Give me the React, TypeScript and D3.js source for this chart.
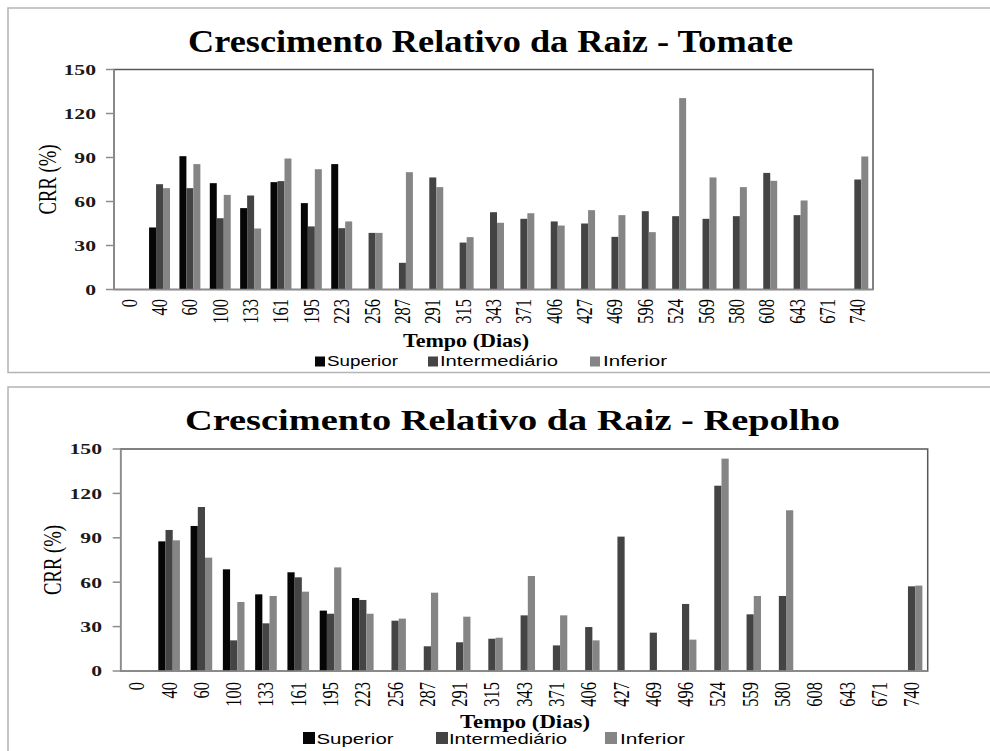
import React from 'react';
import * as d3 from 'd3';

// ---------- DATA ----------
const seriesNames = ['Superior', 'Intermediário', 'Inferior'];
const seriesColors = ['#060606', '#444444', '#858585'];
const yTicks = [0, 30, 60, 90, 120, 150];

const tomateDays = ['0', '40', '60', '100', '133', '161', '195', '223', '256', '287', '291', '315', '343', '371', '406', '427', '469', '596', '524', '569', '580', '608', '643', '671', '740'];
const tomateSuperior = [null, 42.3, 90.9, 72.5, 55.5, 73.2, 58.9, 85.5, null, null, null, null, null, null, null, null, null, null, null, null, null, null, null, null, null];
const tomateIntermediario = [null, 71.8, 69.1, 48.6, 64.1, 73.9, 43, 41.8, 38.6, 18.2, 76.4, 32, 52.7, 48.2, 46.4, 45, 35.9, 53.4, 50, 48.2, 50, 79.5, 50.7, null, 75];
const tomateInferior = [null, 69.1, 85.5, 64.5, 41.6, 89.3, 82, 46.4, 38.6, 80, 69.8, 35.7, 45.5, 52, 43.6, 54.1, 50.7, 39.1, 130.5, 76.4, 69.8, 74.1, 60.7, null, 90.7];

const repolhoDays = ['0', '40', '60', '100', '133', '161', '195', '223', '256', '287', '291', '315', '343', '371', '406', '427', '469', '496', '524', '559', '580', '608', '643', '671', '740'];
const repolhoSuperior = [null, 87.6, 98, 68.7, 51.8, 66.7, 40.8, 49.3, null, null, null, null, null, null, null, null, null, null, null, null, null, null, null, null, null];
const repolhoIntermediario = [null, 95.3, 110.8, 20.7, 32.2, 63.3, 38.7, 48, 34, 16.7, 19.4, 21.8, 37.6, 17.3, 29.7, 90.8, 25.9, 45.3, 125.2, 38.3, 50.7, null, null, null, 57.2];
const repolhoInferior = [null, 88.3, 76.6, 46.6, 50.7, 53.6, 70, 38.7, 35.4, 52.9, 36.7, 22.5, 64.2, 37.6, 20.7, null, null, 21.2, 143.5, 50.7, 108.6, null, null, null, 57.7];

const titleTomate = 'Crescimento Relativo da Raiz - Tomate';
const titleRepolho = 'Crescimento Relativo da Raiz - Repolho';
const yTitle = 'CRR (%)';
const xTitle = 'Tempo (Dias)';

// ---------- LAYOUT ----------
const SERIF = 'Liberation Serif';
const SANS = 'Liberation Sans';

type Layout = {
  frame: { x: number; y: number; w: number; h: number };
  plot: { l: number; t: number; r: number; b: number };
  title: { x: number; y: number; len: number; size: number };
  xLabelY: number;
  yLabelRight: number;
  yTitle: { cx: number; cy: number; len: number };
  axisTitle: { x: number; y: number; len: number; size: number };
  legend: { y: number; sqY: number; sq: number; size: number; items: { sx: number; tx: number; len: number }[] };
  padding: number;
};

const layoutTop: Layout = {
  frame: { x: 8, y: 8, w: 990, h: 364.5 },
  plot: { l: 114, t: 69.5, r: 873, b: 289.5 },
  title: { x: 188, y: 51.5, len: 605, size: 31 },
  xLabelY: 299,
  yLabelRight: 96,
  yTitle: { cx: 47.5, cy: 179.5, len: 70 },
  axisTitle: { x: 403, y: 347, len: 126, size: 18 },
  legend: {
    y: 366, sqY: 356.5, sq: 10, size: 14,
    items: [{ sx: 315, tx: 327, len: 71 }, { sx: 428, tx: 440, len: 118 }, { sx: 590, tx: 603, len: 64 }],
  },
  padding: 0.31,
};

const layoutBottom: Layout = {
  frame: { x: 8, y: 387, w: 990, h: 400 },
  plot: { l: 120.7, t: 449, r: 927.7, b: 671 },
  title: { x: 185, y: 430, len: 655, size: 30 },
  xLabelY: 682,
  yLabelRight: 102,
  yTitle: { cx: 52.5, cy: 560, len: 70 },
  axisTitle: { x: 460, y: 727.5, len: 130, size: 18 },
  legend: {
    y: 744, sqY: 732, sq: 12, size: 14.5,
    items: [{ sx: 303, tx: 316.5, len: 77 }, { sx: 436, tx: 449, len: 118 }, { sx: 605, tx: 620, len: 65 }],
  },
  padding: 0.33,
};

type ChartProps = {
  title: string;
  days: string[];
  series: (number | null)[][];
  L: Layout;
};

function Chart({ title, days, series, L }: ChartProps) {
  const { plot } = L;
  const x = d3.scaleBand<string>()
    .domain(days)
    .range([plot.l, plot.r])
    .paddingInner(L.padding)
    .paddingOuter(L.padding / 2);
  const xs = d3.scaleBand<string>()
    .domain(seriesNames)
    .range([0, x.bandwidth()]);
  const y = d3.scaleLinear().domain([0, 150]).range([plot.b, plot.t]);

  return (
    <g>
      <rect x={L.frame.x} y={L.frame.y} width={L.frame.w} height={L.frame.h}
        fill="#fff" stroke="#b4b4b4" strokeWidth={1.5} />
      <text x={L.title.x} y={L.title.y} style={{ fontFamily: SERIF, fontWeight: 'bold' }}
        fontSize={L.title.size} textLength={L.title.len} lengthAdjust="spacingAndGlyphs" fill="#000">
        {title}
      </text>
      <rect x={plot.l} y={plot.t} width={plot.r - plot.l} height={plot.b - plot.t}
        fill="none" stroke="#585858" strokeWidth={1.5} />
      {days.map((d, i) => (
        <g key={d + i}>
          {series.map((s, j) => {
            const v = s[i];
            if (v === null || v === undefined) return null;
            return (
              <rect key={j}
                x={(x(d) as number) + (xs(seriesNames[j]) as number)}
                y={y(v)}
                width={xs.bandwidth()}
                height={y(0) - y(v)}
                fill={seriesColors[j]} />
            );
          })}
        </g>
      ))}
      <line x1={plot.l} x2={plot.l} y1={plot.t} y2={plot.b} stroke="#8c8c8c" strokeWidth={1.5} />
      <line x1={plot.l} x2={plot.r} y1={plot.b} y2={plot.b} stroke="#8c8c8c" strokeWidth={1.5} />
      {yTicks.map((t) => (
        <g key={t}>
          <line x1={plot.l - 8} x2={plot.l} y1={y(t)} y2={y(t)} stroke="#8c8c8c" strokeWidth={1.5} />
          <text transform={`translate(${L.yLabelRight},${y(t)}) scale(1.4,1)`}
            textAnchor="end" dy="0.35em" style={{ fontFamily: SERIF, fontWeight: 'bold' }} fontSize={15.5} fill="#1a1a1a">
            {t}
          </text>
        </g>
      ))}
      {days.map((d, i) => (
        <text key={'l' + i}
          transform={`translate(${(x(d) as number) + x.bandwidth() / 2},${L.xLabelY}) scale(1.38,1) rotate(-90)`}
          textAnchor="end" dy="0.33em" style={{ fontFamily: SERIF }} fontSize={16.5} fill="#000">
          {d}
        </text>
      ))}
      <text transform={`translate(${L.yTitle.cx},${L.yTitle.cy}) scale(1.4,1) rotate(-90)`}
        textAnchor="middle" dy="0.33em" style={{ fontFamily: SERIF }} fontSize={18.5}
        textLength={L.yTitle.len} lengthAdjust="spacingAndGlyphs" fill="#000">
        {yTitle}
      </text>
      <text x={L.axisTitle.x} y={L.axisTitle.y} style={{ fontFamily: SERIF, fontWeight: 'bold' }}
        fontSize={L.axisTitle.size} textLength={L.axisTitle.len} lengthAdjust="spacingAndGlyphs" fill="#000">
        {xTitle}
      </text>
      {seriesNames.map((n, j) => (
        <g key={n}>
          <rect x={L.legend.items[j].sx} y={L.legend.sqY} width={L.legend.sq} height={L.legend.sq}
            fill={seriesColors[j]} />
          <text x={L.legend.items[j].tx} y={L.legend.y} style={{ fontFamily: SANS }} fontSize={L.legend.size}
            textLength={L.legend.items[j].len} lengthAdjust="spacingAndGlyphs" fill="#000">
            {n}
          </text>
        </g>
      ))}
    </g>
  );
}

export default function App() {
  return (
    <svg width={990} height={751}
      style={{ position: 'absolute', left: 0, top: 0, display: 'block', background: '#fff' }}>
      <rect x={0} y={0} width={990} height={751} fill="#fff" />
      <Chart title={titleTomate} days={tomateDays}
        series={[tomateSuperior, tomateIntermediario, tomateInferior]} L={layoutTop} />
      <Chart title={titleRepolho} days={repolhoDays}
        series={[repolhoSuperior, repolhoIntermediario, repolhoInferior]} L={layoutBottom} />
    </svg>
  );
}
